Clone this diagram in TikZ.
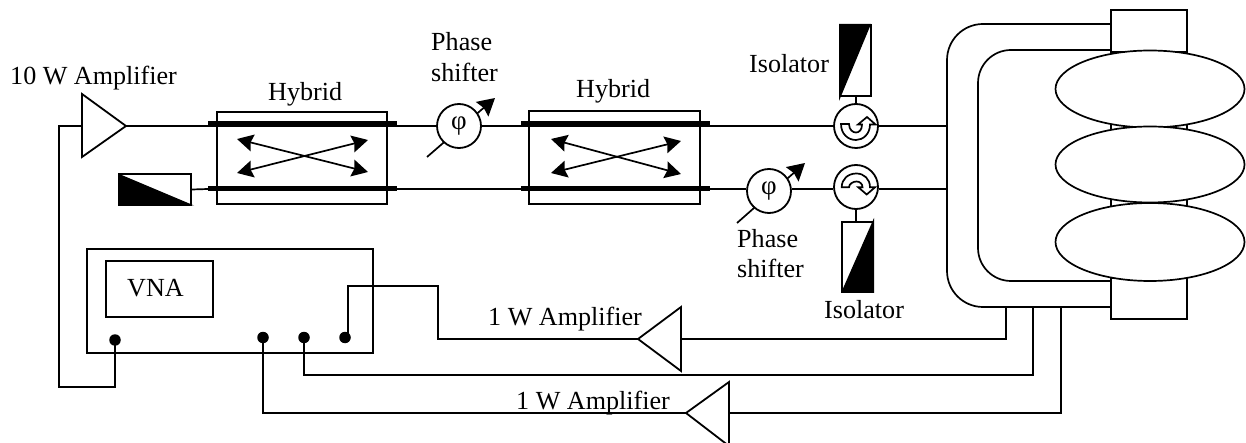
\documentclass[tikz,border=0pt]{standalone}
\usepackage{fontspec}
\setmainfont{Liberation Serif}
\usetikzlibrary{arrows.meta,shapes.geometric}
\tikzset{
  x=1pt,y=-1pt,
  wire/.style={line width=1.7pt,line join=miter},
  txt/.style={anchor=base west,inner sep=0pt,font=\fontsize{26.1}{31}\selectfont},
  hbar/.style={line width=5pt},
  framebox/.style={draw,line width=1.8pt,rectangle,inner sep=0pt,fill=white},
  roundbox/.style={draw,line width=1.8pt,circle,fill=white,minimum size=44pt,inner sep=0pt},
  phasebox/.style={roundbox,font=\fontsize{27}{30}\selectfont},
  portdot/.style={circle,fill=black,minimum size=11.5pt,inner sep=0pt},
  tune/.style={wire,-{Stealth[length=17pt,width=19pt,inset=2pt]}},
  dbl/.style={wire,{Stealth[length=16pt,width=17pt,inset=2pt]}-{Stealth[length=16pt,width=17pt,inset=2pt]}},
  amptri/.style={draw,line width=1.8pt,fill=white,line join=miter},
  isofill/.style={draw=none,fill=black},
  arrowicon/.style={draw,line width=1.7pt,fill=white,line join=miter},
  cell/.style={draw,line width=1.7pt,fill=white,ellipse,minimum width=189pt,inner sep=0pt},
}
\begin{document}
\begin{tikzpicture}
\clip (0,0) rectangle (1246,443);
\fill[white] (0,0) rectangle (1246,443);

% ---- anchors
\coordinate (a10tip) at (126,126);
\coordinate (a10base) at (82,126);
\coordinate (a1tip) at (638,339);
\coordinate (a1base) at (681,339);
\coordinate (a2tip) at (686,413);
\coordinate (a2base) at (729,413);
\coordinate (wg1) at (947,126);
\coordinate (wg2) at (947,189);
\coordinate (t1) at (1006,307);
\coordinate (t2) at (1033,307);
\coordinate (t3) at (1061,307);

% ---- hybrids
\node[framebox,minimum width=170pt,minimum height=92pt] (hyb1) at (302,158) {};
\node[framebox,minimum width=171pt,minimum height=93pt] (hyb2) at (614.5,157.5) {};

% ---- main lines
\coordinate (b1l) at (208,124); \coordinate (b1r) at (397,124);
\coordinate (b2l) at (208,189); \coordinate (b2r) at (397,189);
\coordinate (b3l) at (521,124); \coordinate (b3r) at (710,124);
\coordinate (b4l) at (521,189); \coordinate (b4r) at (710,189);

% ---- phase shifter tuning arrows
\coordinate (p1a) at (427,157); \coordinate (p1b) at (495,98);
\coordinate (p2a) at (737,223); \coordinate (p2b) at (805,163);
\draw[tune] (p1a) -- (p1b);
\draw[tune] (p2a) -- (p2b);

\node[phasebox] (ps1) at (459,126) {φ};
\node[phasebox] (ps2) at (769,191) {φ};
\node[roundbox] (circ1) at (856,126) {};
\node[roundbox] (circ2) at (856,187) {};

\draw[wire] (a10tip) -- (ps1.west);
\draw[wire] (ps1.east) -- (circ1.west);
\draw[wire] (circ1.east) -- (wg1);
\draw[wire] (b2r) -- (ps2.west |- b2r);
\draw[wire] (ps2.east |- b2r) -- (circ2.west |- b2r);
\draw[wire] (circ2.east |- b2r) -- (wg2);

\draw[hbar] (b1l) -- (b1r);
\draw[hbar] (b2l) -- (b2r);
\draw[hbar] (b3l) -- (b3r);
\draw[hbar] (b4l) -- (b4r);

% ---- hybrid arrows
\coordinate (x1a) at (237,139); \coordinate (x1b) at (368,172);
\coordinate (x1c) at (237,173); \coordinate (x1d) at (368,140);
\coordinate (x2a) at (551,139); \coordinate (x2b) at (681,174);
\coordinate (x2c) at (551,173); \coordinate (x2d) at (681,141);
\draw[dbl] (x1a) -- (x1b);
\draw[dbl] (x1c) -- (x1d);
\draw[dbl] (x2a) -- (x2b);
\draw[dbl] (x2c) -- (x2d);

% ---- isolators
\node[framebox,minimum width=72pt,minimum height=31pt] (isoL) at (155,189.5) {};
\fill[isofill] (118,173.5) -- (118,205.5) -- (194,205.5) -- cycle;
\draw[wire] (isoL.east) -- (b2l);

\node[framebox,minimum width=31pt,minimum height=71pt] (isoT) at (855.5,60.5) {};
\fill[isofill] (839,24) -- (871,24) -- (839,101) -- cycle;
\draw[wire] (circ1.north) -- (circ1.north |- isoT.south);

\node[framebox,minimum width=31pt,minimum height=70pt] (isoB) at (857.5,257) {};
\fill[isofill] (874,218) -- (874,293) -- (841,293) -- cycle;
\draw[wire] (circ2.south) -- (circ2.south |- isoB.north);

% ---- circulator icons
\draw[arrowicon] (841,124) -- (849,124) .. controls (849,130) and (853,132.5) .. (856,132.5)
  .. controls (859,132.5) and (862,130) .. (862,124.5) -- (858,124.5) -- (867,117) -- (875.5,124.5) -- (870,124.5)
  .. controls (870,134) and (863,140) .. (856,140) .. controls (848,140) and (841,134) .. (841,124) -- cycle;
\draw[arrowicon] (841.7,187.3) -- (849,187.3) .. controls (849,184) and (853,181.5) .. (856.5,181.5)
  .. controls (860,181.5) and (862.5,184) .. (862.5,187.3) -- (858.3,187.3) -- (866.7,194.5) -- (875,187.3) -- (870,187.3)
  .. controls (870,179) and (864,173.5) .. (856.5,173.5) .. controls (848,173.5) and (841.7,179) .. (841.7,187.3) -- cycle;

% ---- cavity
\node[framebox,minimum width=76pt,minimum height=42pt] (ctop) at (1149,31) {};
\node[framebox,minimum width=76pt,minimum height=41pt] (cbot) at (1149,298.5) {};
\draw[wire,rounded corners=36pt] (1111,24) -- (947,24) -- (947,307) -- (1111,307);
\draw[wire,rounded corners=33pt] (1111,50) -- (978,50) -- (978,281) -- (1111,281);
\draw[wire] (1111,50) -- (1111,281);
\draw[wire] (1187,50) -- (1187,281);
\node[cell,minimum height=77pt] (e1) at (1150,89) {};
\node[cell,minimum height=76pt] (e2) at (1150,164.5) {};
\node[cell,minimum height=78pt] (e3) at (1150,242) {};

% ---- VNA
\node[framebox,minimum width=286pt,minimum height=104pt] (vna) at (230,301) {};
\node[framebox,minimum width=107pt,minimum height=56pt] (vnascreen) at (159.5,289) {};
\node[portdot] (d0) at (115,340) {};
\node[portdot] (d1) at (263,337.5) {};
\node[portdot] (d2) at (304,337.5) {};
\node[portdot] (d3) at (345,337.5) {};

% ---- amplifiers wiring
\draw[wire] (d0.center) -- (115,387) -- (59,387) -- (59,126) -- (a10base);
\draw[wire] (d3.center) ++(3,0) -- (348,286) -- (438,286) -- (438,339) -- (a1tip);
\draw[wire] (a1base) -- (1006,339) -- (t1);
\draw[wire] (d2.center) -- (304,375) -- (1033,375) -- (t2);
\draw[wire] (d1.center) -- (263,413) -- (a2tip);
\draw[wire] (a2base) -- (1061,413) -- (t3);

% ---- amplifiers
\draw[amptri] (82,94) -- (a10tip) -- (82,157) -- cycle;
\draw[amptri] (681,307) -- (a1tip) -- (681,371) -- cycle;
\draw[amptri] (729,382) -- (a2tip) -- (729,446) -- cycle;

% ---- labels
\node[txt] (l10) at (10,85) {10 W Amplifier};
\node[txt] (lh1) at (268,101) {Hybrid};
\node[txt] (lh2) at (576,98) {Hybrid};
\node[txt] (lp1a) at (431,51) {Phase};
\node[txt] (lp1b) at (431,82) {shifter};
\node[txt] (lp2a) at (737,248) {Phase};
\node[txt] (lp2b) at (737,278) {shifter};
\node[txt] (li1) at (749,73) {Isolator};
\node[txt] (li2) at (824,318) {Isolator};
\node[txt] (lvna) at (127,296) {VNA};
\node[txt] (la1) at (488,325) {1 W Amplifier};
\node[txt] (la2) at (516,409) {1 W Amplifier};
\end{tikzpicture}
\end{document}
